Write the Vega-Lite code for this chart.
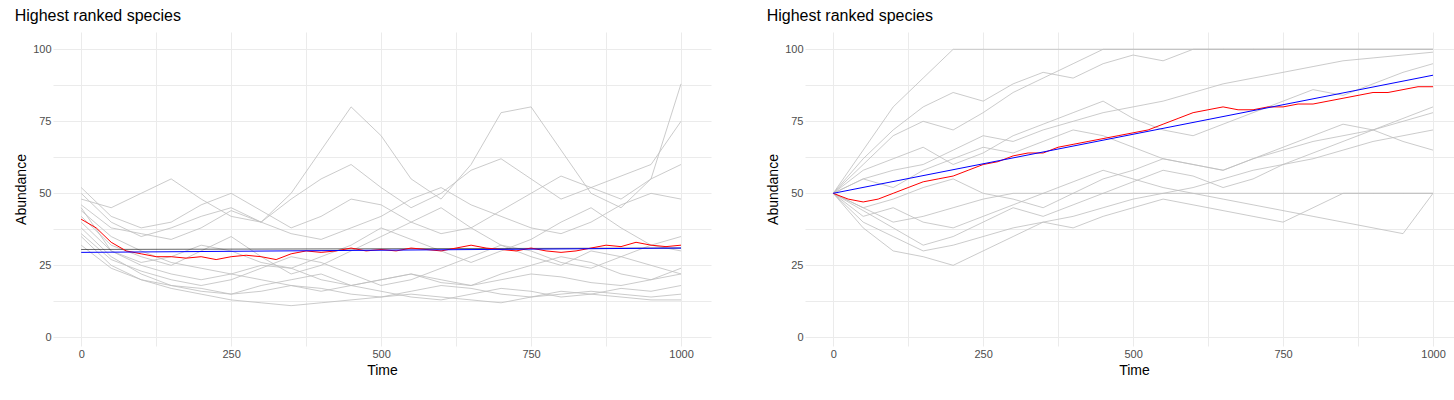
{
  "$schema": "https://vega.github.io/schema/vega-lite/v6.json",
  "background": "white",
  "padding": {"left": 14, "top": 8, "right": 5, "bottom": 5},
  "config": {
    "view": {"stroke": null},
    "font": "Liberation Sans",
    "title": {"fontSize": 16, "fontWeight": "normal", "anchor": "start", "color": "#000000", "offset": 8},
    "axis": {"domain": false, "ticks": false, "gridColor": "#ebebeb", "labelColor": "#4d4d4d", "labelFontSize": 11, "titleFontSize": 14, "titleFontWeight": "normal", "titleColor": "#000000"}
  },
  "datasets": {
    "d": [
      {"p": "A", "k": "grey", "s": "L1", "t": [0,50,100,150,200,250,300,350,400,450,500,550,600,650,700,750,800,850,900,950,1000], "v": [45,30,25,22,20,22,25,24,20,18,20,22,19,18,20,22,21,19,18,20,22]},
      {"p": "A", "k": "grey", "s": "L2", "t": [0,50,100,150,200,250,300,350,400,450,500,550,600,650,700,750,800,850,900,950,1000], "v": [38,28,22,18,17,15,16,18,17,15,14,16,18,17,15,14,15,16,15,14,15]},
      {"p": "A", "k": "grey", "s": "L3", "t": [0,50,100,150,200,250,300,350,400,450,500,550,600,650,700,750,800,850,900,950,1000], "v": [50,40,35,38,42,45,40,48,55,60,52,45,50,58,62,55,48,52,56,60,75]},
      {"p": "A", "k": "grey", "s": "L4", "t": [0,50,100,150,200,250,300,350,400,450,500,550,600,650,700,750,800,850,900,950,1000], "v": [42,32,28,25,30,35,28,22,25,30,35,40,45,38,32,28,25,30,28,25,22]},
      {"p": "A", "k": "grey", "s": "L5", "t": [0,50,100,150,200,250,300,350,400,450,500,550,600,650,700,750,800,850,900,950,1000], "v": [35,25,20,18,16,15,18,20,22,18,16,14,13,15,17,16,14,15,17,16,18]},
      {"p": "A", "k": "grey", "s": "L6", "t": [0,50,100,150,200,250,300,350,400,450,500,550,600,650,700,750,800,850,900,950,1000], "v": [48,45,50,55,48,42,40,50,65,80,70,55,48,60,78,80,65,50,45,55,60]},
      {"p": "A", "k": "grey", "s": "L7", "t": [0,50,100,150,200,250,300,350,400,450,500,550,600,650,700,750,800,850,900,950,1000], "v": [40,30,26,28,32,30,26,24,28,32,38,34,30,26,30,34,40,45,38,32,30]},
      {"p": "A", "k": "grey", "s": "L8", "t": [0,50,100,150,200,250,300,350,400,450,500,550,600,650,700,750,800,850,900,950,1000], "v": [44,35,30,26,24,22,20,18,16,18,20,22,20,18,22,25,28,26,22,20,24]},
      {"p": "A", "k": "grey", "s": "L9", "t": [0,50,100,150,200,250,300,350,400,450,500,550,600,650,700,750,800,850,900,950,1000], "v": [36,27,23,20,18,20,24,28,26,22,18,20,24,28,32,30,26,24,28,32,35]},
      {"p": "A", "k": "grey", "s": "L10", "t": [0,50,100,150,200,250,300,350,400,450,500,550,600,650,700,750,800,850,900,950,1000], "v": [52,42,38,40,46,50,44,38,42,48,46,40,36,38,44,50,56,52,48,55,88]},
      {"p": "A", "k": "grey", "s": "L11", "t": [0,50,100,150,200,250,300,350,400,450,500,550,600,650,700,750,800,850,900,950,1000], "v": [32,24,20,17,15,13,12,11,12,13,14,15,14,13,12,14,16,15,14,13,13]},
      {"p": "A", "k": "grey", "s": "L12", "t": [0,50,100,150,200,250,300,350,400,450,500,550,600,650,700,750,800,850,900,950,1000], "v": [46,38,36,34,38,44,40,36,34,38,42,48,52,46,42,38,36,40,46,50,48]},
      {"p": "A", "k": "black", "s": "Lk", "t": [0,1000], "v": [30.5,31]},
      {"p": "A", "k": "red", "s": "Lr", "t": [0,25,50,75,100,125,150,175,200,225,250,275,300,325,350,375,400,425,450,475,500,525,550,575,600,625,650,675,700,725,750,775,800,825,850,875,900,925,950,975,1000], "v": [41,38,33,30,29,28,28,27.5,28,27,28,28.5,28,27,29,30,29.5,30,31,30,30.5,30,31,30.5,30,31,32,31,30.5,30,31,30,29.5,30,31,32,31.5,33,32,31.5,32]},
      {"p": "A", "k": "blue", "s": "Lb", "t": [0,1000], "v": [29.5,31]},
      {"p": "B", "k": "grey", "s": "R1", "t": [0,50,100,150,200,250,300,350,400,450,500,550,600,650,700,750,800,850,900,950,1000], "v": [50,65,80,90,100,100,100,100,100,100,100,100,100,100,100,100,100,100,100,100,100]},
      {"p": "B", "k": "grey", "s": "R2", "t": [0,50,100,150,200,250,300,350,400,450,500,550,600,650,700,750,800,850,900,950,1000], "v": [50,45,40,42,45,48,50,50,50,50,50,50,50,50,50,50,50,50,50,50,50]},
      {"p": "B", "k": "grey", "s": "R3", "t": [0,50,100,150,200,250,300,350,400,450,500,550,600,650,700,750,800,850,900,950,1000], "v": [50,55,58,60,65,70,68,72,75,78,80,82,85,88,90,92,94,96,97,98,99]},
      {"p": "B", "k": "grey", "s": "R4", "t": [0,50,100,150,200,250,300,350,400,450,500,550,600,650,700,750,800,850,900,950,1000], "v": [50,40,35,30,32,35,38,40,42,45,48,50,52,55,58,60,62,65,68,70,72]},
      {"p": "B", "k": "grey", "s": "R5", "t": [0,50,100,150,200,250,300,350,400,450,500,550,600,650,700,750,800,850,900,950,1000], "v": [50,60,70,75,72,78,85,90,95,100,100,100,100,100,100,100,100,100,100,100,100]},
      {"p": "B", "k": "grey", "s": "R6", "t": [0,50,100,150,200,250,300,350,400,450,500,550,600,650,700,750,800,850,900,950,1000], "v": [50,45,48,52,55,50,48,45,50,55,58,62,60,58,62,65,68,70,72,75,78]},
      {"p": "B", "k": "grey", "s": "R7", "t": [0,50,100,150,200,250,300,350,400,450,500,550,600,650,700,750,800,850,900,950,1000], "v": [50,38,30,28,25,30,35,40,38,42,45,48,46,44,42,40,45,50,50,50,50]},
      {"p": "B", "k": "grey", "s": "R8", "t": [0,50,100,150,200,250,300,350,400,450,500,550,600,650,700,750,800,850,900,950,1000], "v": [50,58,62,66,60,64,70,74,78,82,76,72,70,74,78,82,86,84,88,92,95]},
      {"p": "B", "k": "grey", "s": "R9", "t": [0,50,100,150,200,250,300,350,400,450,500,550,600,650,700,750,800,850,900,950,1000], "v": [50,42,45,40,38,42,46,50,54,58,55,52,50,48,46,44,42,40,38,36,50]},
      {"p": "B", "k": "grey", "s": "R10", "t": [0,50,100,150,200,250,300,350,400,450,500,550,600,650,700,750,800,850,900,950,1000], "v": [50,55,52,58,62,66,64,68,72,70,66,62,60,58,62,66,70,74,72,68,65]},
      {"p": "B", "k": "grey", "s": "R11", "t": [0,50,100,150,200,250,300,350,400,450,500,550,600,650,700,750,800,850,900,950,1000], "v": [50,62,72,80,85,82,88,92,90,95,98,96,100,100,100,100,100,100,100,100,100]},
      {"p": "B", "k": "grey", "s": "R12", "t": [0,50,100,150,200,250,300,350,400,450,500,550,600,650,700,750,800,850,900,950,1000], "v": [50,44,38,32,35,40,45,42,46,50,54,58,56,52,55,60,64,68,72,76,80]},
      {"p": "B", "k": "red", "s": "Rr", "t": [0,25,50,75,100,125,150,175,200,225,250,275,300,325,350,375,400,425,450,475,500,525,550,575,600,625,650,675,700,725,750,775,800,825,850,875,900,925,950,975,1000], "v": [50,48,47,48,50,52,54,55,56,58,60,61,63,64,64,66,67,68,69,70,71,72,74,76,78,79,80,79,79,80,80,81,81,82,83,84,85,85,86,87,87]},
      {"p": "B", "k": "blue", "s": "Rb", "t": [0,1000], "v": [50,91]}
    ]
  },
  "hconcat": [
    {
      "title": "Highest ranked species",
      "width": 658, "height": 314,
      "data": {"name": "d"},
      "transform": [{"filter": "datum.p == 'A'"}, {"flatten": ["t", "v"]}],
      "encoding": {
        "x": {"field": "t", "type": "quantitative", "title": "Time", "scale": {"domain": [-47, 1050], "nice": false}, "axis": {"values": [0,125,250,375,500,625,750,875,1000], "format": "d", "labelExpr": "datum.value % 250 == 0 ? datum.label : ''"}},
        "y": {"field": "v", "type": "quantitative", "title": "Abundance", "scale": {"domain": [-3, 106], "nice": false}, "axis": {"values": [0,12.5,25,37.5,50,62.5,75,87.5,100], "labelExpr": "datum.value % 25 == 0 ? datum.label : ''"}},
        "detail": {"field": "s"}
      },
      "layer": [
        {"transform": [{"filter": "datum.k == 'grey'"}], "mark": {"type": "line", "color": "#bebebe", "strokeWidth": 0.8}},
        {"transform": [{"filter": "datum.k == 'black'"}], "mark": {"type": "line", "color": "#000000", "strokeWidth": 0.6}},
        {"transform": [{"filter": "datum.k == 'red'"}], "mark": {"type": "line", "color": "#ff0000", "strokeWidth": 1}},
        {"transform": [{"filter": "datum.k == 'blue'"}], "mark": {"type": "line", "color": "#0000ff", "strokeWidth": 1}}
      ]
    },
    {
      "title": "Highest ranked species",
      "width": 658, "height": 314,
      "data": {"name": "d"},
      "transform": [{"filter": "datum.p == 'B'"}, {"flatten": ["t", "v"]}],
      "encoding": {
        "x": {"field": "t", "type": "quantitative", "title": "Time", "scale": {"domain": [-47, 1050], "nice": false}, "axis": {"values": [0,125,250,375,500,625,750,875,1000], "format": "d", "labelExpr": "datum.value % 250 == 0 ? datum.label : ''"}},
        "y": {"field": "v", "type": "quantitative", "title": "Abundance", "scale": {"domain": [-3, 106], "nice": false}, "axis": {"values": [0,12.5,25,37.5,50,62.5,75,87.5,100], "labelExpr": "datum.value % 25 == 0 ? datum.label : ''"}},
        "detail": {"field": "s"}
      },
      "layer": [
        {"transform": [{"filter": "datum.k == 'grey'"}], "mark": {"type": "line", "color": "#bebebe", "strokeWidth": 0.8}},
        {"transform": [{"filter": "datum.k == 'red'"}], "mark": {"type": "line", "color": "#ff0000", "strokeWidth": 1}},
        {"transform": [{"filter": "datum.k == 'blue'"}], "mark": {"type": "line", "color": "#0000ff", "strokeWidth": 1}}
      ]
    }
  ],
  "spacing": 55
}
